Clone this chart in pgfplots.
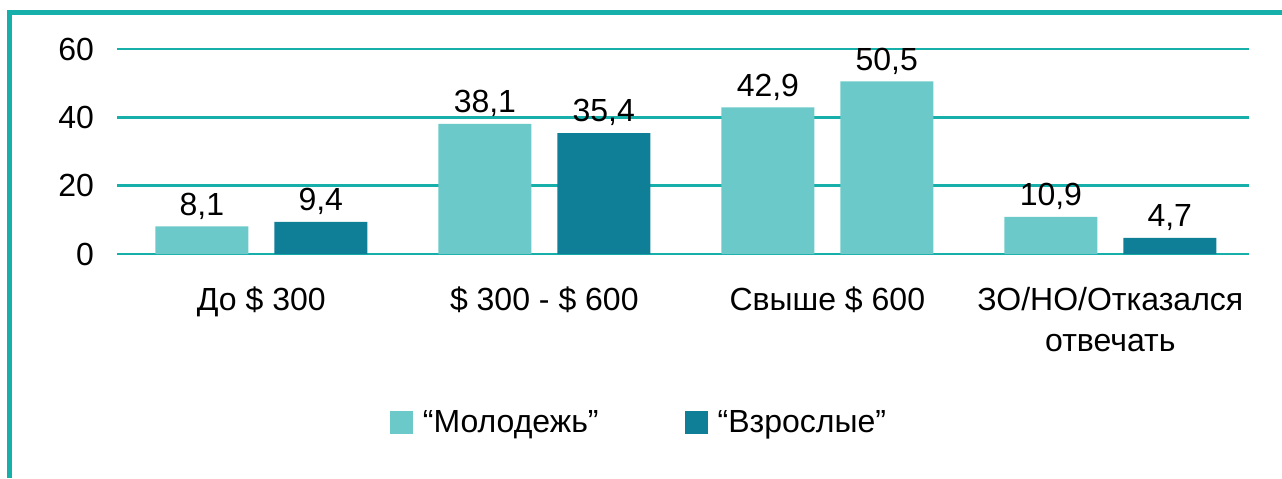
\documentclass[border=0pt]{standalone}
\usepackage{fontspec}
\setmainfont{Liberation Sans}
\usepackage{pgfplots}
\pgfplotsset{compat=1.18}
\definecolor{frameteal}{HTML}{17AFAA}
\definecolor{lightbar}{HTML}{6BC9C9}
\definecolor{darkbar}{HTML}{0E7F97}
\begin{document}
\begin{tikzpicture}
\path[use as bounding box] (0pt,0pt) rectangle (641pt,-239pt);
\draw[frameteal,line width=2.7pt] (4.75pt,-239pt) -- (4.75pt,-6.25pt) -- (641pt,-6.25pt);
\begin{axis}[
  at={(58.5pt,-127pt)}, anchor=south west,
  scale only axis, width=566pt, height=102.5pt,
  xmin=-0.51, xmax=3.49, ymin=0, ymax=60,
  ytick={0,20,40,60},
  xtick={0,1,2,3},
  xticklabels={До \$ 300, \$ 300 - \$ 600, Свыше \$ 600, {ЗО/НО/Отказался\\отвечать}},
  xticklabel style={align=center, yshift=-13pt, font=\fontsize{16}{20.5}\selectfont},
  yticklabel style={xshift=-8pt, font=\fontsize{16}{19}\selectfont},
  /pgf/number format/assume math mode=true,
  axis line style={draw=none},
  major tick length=0pt,
  ymajorgrids, major grid style={frameteal, line width=1.3pt},
  ybar, bar width=46.5pt, bar shift=0pt,
  nodes near coords,
  nodes near coords style={font=\fontsize{16}{19}\selectfont, /pgf/number format/.cd, use comma, fixed, fixed zerofill, precision=1, assume math mode=true},
  legend columns=2,
  legend style={at={(0.462,-0.824)}, anchor=center, draw=none, fill=none,
    font=\fontsize{16}{19}\selectfont, column sep=0pt,
    /tikz/every even column/.append style={column sep=41pt}},
  legend cell align=left,
  clip=false,
]
\addplot[fill=lightbar, draw=none,
  legend image code/.code={\fill[lightbar] (0pt,-5.75pt) rectangle (11.5pt,5.75pt);\path (14.5pt,0pt);}]
  coordinates {(-0.21,8.1) (0.79,38.1) (1.79,42.9) (2.21,50.5) (2.79,10.9)};
\addlegendentry{“Молодежь”}
\addplot[fill=darkbar, draw=none,
  legend image code/.code={\fill[darkbar] (0pt,-5.75pt) rectangle (11.5pt,5.75pt);\path (14.5pt,0pt);}]
  coordinates {(0.21,9.4) (1.21,35.4) (3.21,4.7)};
\addlegendentry{“Взрослые”}
\end{axis}
\end{tikzpicture}
\end{document}
